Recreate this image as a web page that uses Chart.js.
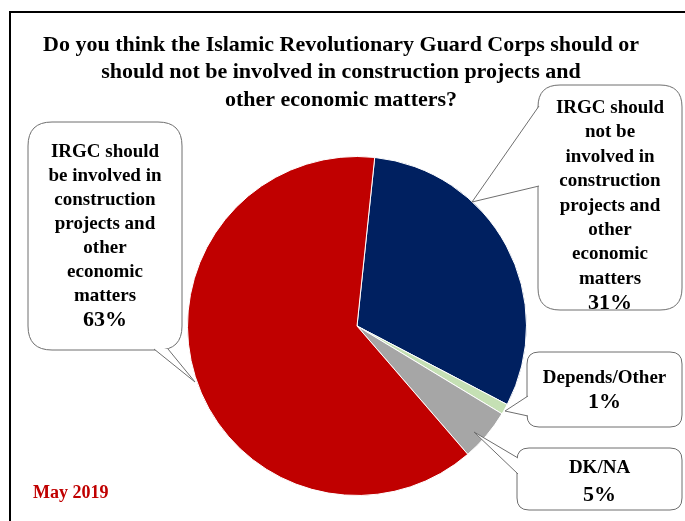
<!DOCTYPE html>
<html lang="en">
<head>
    <meta charset="UTF-8">
    <script src="https://cdn.jsdelivr.net/npm/chart.js"></script>
    <title>IRGC economic role</title>
    <style>
        body { margin: 0; background: #fff; }
        #wrap { width: 685px; height: 521px; }
    </style>
</head>
<body>
    <div id="wrap">
        <canvas id="pieChart" width="685" height="521"></canvas>
    </div>
    <script>
        // data
        const categories = [
            'IRGC should not be involved in construction projects and other economic matters',
            'Depends/Other',
            'DK/NA',
            'IRGC should be involved in construction projects and other economic matters'
        ];
        const percents = [31, 1, 5, 63];
        const sliceColors = ['#002060', '#c5e0b4', '#a6a6a6', '#c00000'];

        const titleLines = [
            'Do you think the Islamic Revolutionary Guard Corps should or',
            'should not be involved in construction projects and',
            'other economic matters?'
        ];

        // callout boxes: text lines per category (same order as above)
        const calloutLines = [
            ['IRGC should', 'not be', 'involved in', 'construction', 'projects and', 'other', 'economic', 'matters'],
            ['Depends/Other'],
            ['DK/NA'],
            ['IRGC should', 'be involved in', 'construction', 'projects and', 'other', 'economic', 'matters']
        ];

        const callouts = [
            { box: [538, 85, 682, 310], r: 22, base: [[539, 106], [539, 186]], tip: [472, 202], top: 108, step: 24.4 },
            { box: [527, 352, 682, 427], r: 12, base: [[528, 396], [528, 416]], tip: [505, 411], top: 378, step: 24 },
            { box: [517, 448, 682, 510], r: 12, base: [[518, 458], [518, 474]], tip: [474, 432], top: 468, step: 27 },
            { box: [28, 122, 182, 350], r: 24, base: [[154, 349], [168, 349]], tip: [195, 382], top: 152, step: 24 }
        ];

        function roundRect(ctx, x1, y1, x2, y2, r) {
            ctx.beginPath();
            ctx.moveTo(x1 + r, y1);
            ctx.lineTo(x2 - r, y1);
            ctx.quadraticCurveTo(x2, y1, x2, y1 + r);
            ctx.lineTo(x2, y2 - r);
            ctx.quadraticCurveTo(x2, y2, x2 - r, y2);
            ctx.lineTo(x1 + r, y2);
            ctx.quadraticCurveTo(x1, y2, x1, y2 - r);
            ctx.lineTo(x1, y1 + r);
            ctx.quadraticCurveTo(x1, y1, x1 + r, y1);
            ctx.closePath();
        }

        const annotations = {
            id: 'annotations',
            afterDraw(chart) {
                const ctx = chart.ctx;
                ctx.save();

                // outer frame
                ctx.strokeStyle = '#000';
                ctx.lineWidth = 2;
                ctx.strokeRect(10, 12, 690, 530);

                // title
                ctx.fillStyle = '#000';
                ctx.textAlign = 'center';
                ctx.textBaseline = 'middle';
                ctx.font = 'bold 22px "Liberation Serif", "Times New Roman", serif';
                titleLines.forEach((t, i) => ctx.fillText(t, 341, 45 + i * 27.5));

                // callouts
                callouts.forEach((c, i) => {
                    const [x1, y1, x2, y2] = c.box;
                    roundRect(ctx, x1, y1, x2, y2, c.r);
                    ctx.fillStyle = '#fff';
                    ctx.fill();
                    ctx.strokeStyle = '#6e6e6e';
                    ctx.lineWidth = 1;
                    ctx.stroke();

                    // tail
                    ctx.beginPath();
                    ctx.moveTo(c.base[0][0], c.base[0][1]);
                    ctx.lineTo(c.tip[0], c.tip[1]);
                    ctx.lineTo(c.base[1][0], c.base[1][1]);
                    ctx.closePath();
                    ctx.fillStyle = '#fff';
                    ctx.fill();
                    ctx.beginPath();
                    ctx.moveTo(c.base[0][0], c.base[0][1]);
                    ctx.lineTo(c.tip[0], c.tip[1]);
                    ctx.lineTo(c.base[1][0], c.base[1][1]);
                    ctx.stroke();

                    const cx = (x1 + x2) / 2;
                    ctx.fillStyle = '#000';
                    ctx.font = 'bold 19px "Liberation Serif", "Times New Roman", serif';
                    const lines = calloutLines[i];
                    lines.forEach((t, j) => ctx.fillText(t, cx, c.top + j * c.step));
                    ctx.font = 'bold 22px "Liberation Serif", "Times New Roman", serif';
                    ctx.fillText(percents[i] + '%', cx, c.top + lines.length * c.step);
                });

                // date
                ctx.fillStyle = '#c00000';
                ctx.textAlign = 'left';
                ctx.font = 'bold 18px "Liberation Serif", "Times New Roman", serif';
                ctx.fillText('May 2019', 33, 493);

                ctx.restore();
            }
        };

        const ctxPie = document.getElementById('pieChart').getContext('2d');
        const pieChart = new Chart(ctxPie, {
            type: 'pie',
            data: {
                labels: categories,
                datasets: [{
                    data: percents,
                    backgroundColor: sliceColors,
                    borderColor: '#ffffff',
                    borderWidth: 1,
                    hoverOffset: 0
                }]
            },
            options: {
                responsive: false,
                animation: false,
                rotation: 6,
                layout: {
                    padding: { top: 156, left: 187, right: 158, bottom: 25 }
                },
                plugins: {
                    legend: { display: false },
                    tooltip: { enabled: false }
                }
            },
            plugins: [annotations]
        });
    </script>
</body>
</html>
